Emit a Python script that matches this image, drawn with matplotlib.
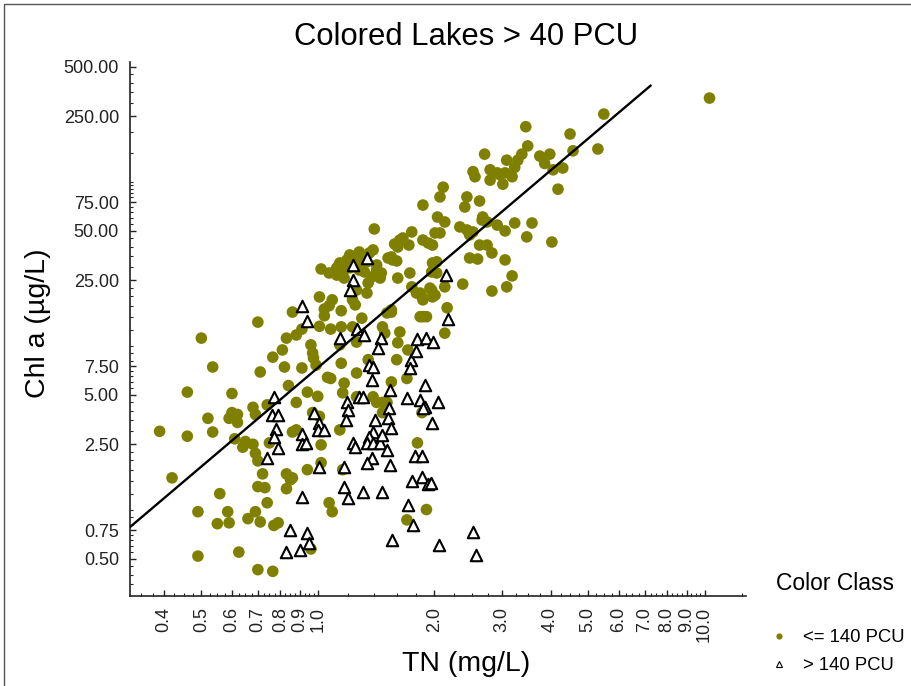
import numpy as np
import matplotlib
matplotlib.use("Agg")
import matplotlib.pyplot as plt
from matplotlib.lines import Line2D
from matplotlib.patches import Rectangle
from matplotlib.ticker import FixedLocator, FormatStrFormatter, NullFormatter

plt.rcParams["font.family"] = ["Liberation Sans", "DejaVu Sans"]

OLIVE = "#808000"

# lakes with colour <= 140 PCU (TN mg/L, Chl a ug/L)
tn_low = [
    0.39, 0.42, 0.46, 0.46, 0.50, 0.49, 0.49, 0.52, 0.535, 0.535,
    0.558, 0.55, 0.585, 0.59, 0.60, 0.60, 0.59, 0.62, 0.61, 0.62,
    0.625, 0.66, 0.65, 0.64, 0.68, 0.69, 0.68, 0.69, 0.70, 0.69,
    0.70, 0.70, 0.71, 0.72, 0.71, 0.70, 0.73, 0.74, 0.74, 0.765,
    0.765, 0.75, 0.77, 0.79, 0.81, 0.82, 0.83, 0.83, 0.83, 0.85,
    0.86, 0.84, 0.86, 0.88, 0.88, 0.91, 0.91, 0.86, 0.88, 0.94,
    0.96, 0.97, 0.975, 0.99, 0.94, 0.97, 1.01, 1.01, 1.00, 1.01,
    1.02, 1.02, 1.06, 1.08, 1.07, 1.09, 0.96, 1.07, 1.04, 1.04,
    1.08, 1.09, 1.12, 1.14, 1.15, 1.15, 1.14, 1.15, 1.14, 1.16,
    1.17, 1.16, 1.21, 1.23, 1.25, 1.26, 1.30, 1.23, 1.26, 1.26,
    1.26, 1.31, 1.34, 1.35, 1.35, 1.39, 1.42, 1.47, 1.47, 1.51,
    1.45, 1.42, 1.47, 1.49, 1.55, 1.55, 1.56, 1.60, 1.61, 1.63,
    1.61, 1.55, 1.71, 1.73, 1.70, 1.75, 1.80, 1.86, 1.86, 1.81,
    1.91, 1.70, 1.87, 1.91, 1.97, 2.01, 1.98, 2.03, 2.13, 2.13,
    2.16, 10.3, 5.49, 3.45, 4.49, 3.49, 5.30, 4.57, 2.70, 3.75,
    3.98, 3.37, 3.29, 3.08, 3.86, 3.23, 4.30, 4.06, 2.79, 2.52,
    2.55, 2.91, 2.96, 3.05, 3.18, 2.79, 3.01, 4.18, 2.11, 2.07,
    1.87, 2.43, 2.40, 2.62, 2.04, 2.13, 2.67, 2.66, 3.23, 3.58,
    2.91, 3.05, 2.33, 2.43, 2.52, 2.47, 3.47, 4.03, 1.75, 2.01,
    2.07, 1.87, 1.93, 1.98, 1.63, 1.58, 1.72, 2.62, 2.74, 2.82,
    2.47, 2.59, 3.05, 2.03, 1.97, 1.52, 1.46, 3.18, 2.37, 1.95,
    1.84, 1.98, 1.87, 2.82, 3.08, 1.84, 1.55, 1.51, 1.40, 1.66,
    1.61, 1.60, 1.39, 1.36, 1.28, 1.21, 1.19, 1.26, 1.34, 1.14,
    1.12, 1.42, 1.43, 1.28, 1.32, 1.21, 1.02, 1.07, 1.16, 1.38,
    1.17, 2.74,
]
chl_low = [
    3.0, 1.56, 5.2, 2.8, 11.1, 0.97, 0.52, 3.6, 7.4, 2.97,
    1.25, 0.82, 0.97, 0.83, 5.1, 3.9, 3.6, 3.8, 2.7, 3.4,
    0.55, 0.88, 2.6, 2.4, 4.2, 3.8, 2.5, 2.2, 1.98, 0.97,
    0.43, 13.9, 6.9, 1.65, 0.84, 1.38, 1.36, 4.35, 1.10, 0.42,
    8.5, 2.55, 0.80, 0.83, 9.4, 7.4, 11.1, 1.65, 1.34, 1.52,
    1.56, 5.7, 16.0, 4.5, 11.6, 12.6, 7.3, 2.97, 3.06, 1.75,
    10.1, 9.0, 8.4, 7.6, 5.2, 3.9, 19.8, 13.1, 4.9, 3.7,
    2.48, 1.93, 6.4, 6.3, 1.10, 0.97, 0.575, 17.5, 16.7, 15.2,
    12.6, 19.0, 26.9, 30.2, 16.3, 13.0, 10.1, 7.8, 3.06, 1.75,
    5.9, 5.15, 34.7, 19.0, 17.7, 21.8, 14.7, 13.0, 10.5, 6.8,
    4.87, 33.3, 20.9, 24.1, 8.2, 4.87, 4.5, 4.5, 3.9, 4.5,
    25.8, 28.9, 13.0, 11.9, 16.0, 34.7, 33.3, 8.2, 25.8, 12.1,
    10.4, 6.0, 9.4, 27.7, 6.3, 22.8, 20.9, 3.9, 19.8, 2.55,
    1.0, 0.865, 15.0, 15.0, 21.8, 20.3, 31.9, 27.7, 22.8, 11.9,
    17.0, 323, 258, 216, 195, 165, 158, 154, 147, 143,
    147, 147, 135, 135, 129, 122, 121, 118, 118, 115,
    107, 113, 110, 113, 107, 102, 96.4, 89.9, 92.5, 80.6,
    71.9, 80.6, 70.0, 76.1, 60.8, 56.7, 60.8, 58.3, 55.9, 55.9,
    54.3, 50.0, 52.9, 50.7, 49.3, 47.3, 46.0, 42.8, 49.3, 48.6,
    48.6, 44.0, 42.2, 41.0, 44.0, 41.6, 41.0, 41.0, 41.0, 36.7,
    34.2, 33.7, 33.3, 32.4, 28.1, 34.2, 27.7, 26.6, 23.7, 22.4,
    20.9, 19.8, 19.0, 21.5, 22.8, 15.0, 16.5, 15.8, 51.4, 45.3,
    39.9, 32.8, 38.3, 36.7, 37.2, 35.7, 33.3, 33.3, 32.4, 31.9,
    29.8, 31.0, 27.7, 28.9, 28.1, 29.8, 29.3, 27.7, 27.7, 26.2,
    25.8, 56.7,
]

# lakes with colour > 140 PCU
tn_high = [
    0.91, 0.94, 1.23, 1.21, 1.34, 1.14, 1.26, 1.32, 1.46, 1.43,
    1.36, 1.39, 1.38, 1.54, 1.53, 1.52, 1.55, 1.41, 1.39, 1.36,
    1.34, 1.39, 1.45, 1.51, 1.47, 1.38, 1.34, 1.54, 1.74, 1.73,
    1.80, 1.81, 1.91, 1.98, 1.70, 1.84, 1.89, 1.89, 2.04, 1.97,
    1.78, 1.86, 1.75, 1.86, 1.93, 1.71, 1.76, 1.56, 2.06, 0.77,
    0.76, 0.79, 0.78, 0.77, 0.79, 0.74, 0.91, 0.91, 0.93, 0.98,
    1.01, 1.00, 1.04, 1.01, 0.91, 0.85, 0.83, 0.90, 0.94, 0.95,
    1.19, 1.20, 1.18, 1.23, 1.25, 1.17, 1.17, 1.20, 1.31, 1.47,
    1.28, 1.31, 2.14, 2.17, 1.96, 2.52, 2.56, 1.87, 1.23,
]
chl_high = [
    17.5, 14.1, 25.1, 21.8, 34.2, 11.1, 12.6, 11.6, 11.1, 9.65,
    7.6, 7.4, 6.17, 5.37, 4.17, 3.62, 3.15, 3.52, 2.97, 2.77,
    2.55, 2.55, 2.55, 2.31, 2.85, 2.06, 1.93, 1.87, 8.2, 7.3,
    9.27, 10.9, 11.1, 10.5, 4.8, 4.67, 5.75, 4.23, 4.54, 3.37,
    2.12, 2.12, 1.50, 1.59, 1.44, 1.06, 0.80, 0.65, 0.61, 4.87,
    3.77, 3.77, 3.10, 2.77, 2.38, 2.06, 2.89, 2.51, 2.55, 3.88,
    3.37, 3.06, 3.06, 1.82, 1.20, 0.75, 0.55, 0.567, 0.72, 0.626,
    4.54, 4.05, 3.52, 2.55, 2.41, 1.82, 1.38, 1.18, 1.28, 1.28,
    4.87, 4.87, 26.9, 14.5, 1.46, 0.73, 0.53, 4.17, 31.0,
]

# fitted line: log10(chl) = a + b * log10(TN)
fit_intercept = 0.864
fit_slope = 2.0
fit_tn = [0.327, 7.25]

x_ticks = [0.4, 0.5, 0.6, 0.7, 0.8, 0.9, 1.0, 2.0, 3.0, 4.0, 5.0, 6.0, 7.0, 8.0, 9.0, 10.0]
y_ticks = [0.5, 0.75, 2.5, 5.0, 7.5, 25.0, 50.0, 75.0, 250.0, 500.0]

x_minor = np.concatenate([np.arange(0.35, 1.0, 0.025), np.arange(1.2, 2.0, 0.2),
                          np.arange(2.25, 10.0, 0.25), [12.5]])
y_minor = np.concatenate([np.arange(0.35, 0.75, 0.05), [0.8, 0.9, 1.0, 1.25, 1.5, 1.75, 2.0, 2.25],
                          np.arange(3.0, 7.5, 0.5), [8, 9, 10, 12.5, 15, 17.5, 20, 22.5],
                          np.arange(30, 75, 5), [80, 85, 90, 95, 100, 150, 200, 300, 350, 400, 450]])

fig = plt.figure(figsize=(9.12, 6.86), dpi=100)
W, H = 912, 686
ax = fig.add_axes([130 / W, 1 - 596 / H, (746 - 130) / W, (596 - 62) / H])
ax.set_xscale("log")
ax.set_yscale("log")
ax.set_xlim(0.327, 12.8)
ax.set_ylim(0.297, 536)

ax.scatter(tn_low, chl_low, s=70, color=OLIVE, edgecolors="none", zorder=2)
ax.scatter(tn_high, chl_high, s=68, marker="^", facecolors="white",
           edgecolors="black", linewidths=1.5, zorder=3)

line_x = np.array(fit_tn)
ax.plot(line_x, 10 ** (fit_intercept + fit_slope * np.log10(line_x)),
        color="black", lw=1.7, zorder=4)

for side in ["top", "right"]:
    ax.spines[side].set_visible(False)
for side in ["left", "bottom"]:
    ax.spines[side].set_color("#222222")
    ax.spines[side].set_linewidth(1.2)

ax.xaxis.set_major_locator(FixedLocator(x_ticks))
ax.xaxis.set_major_formatter(FormatStrFormatter("%.1f"))
ax.xaxis.set_minor_locator(FixedLocator(x_minor))
ax.xaxis.set_minor_formatter(NullFormatter())
ax.yaxis.set_major_locator(FixedLocator(y_ticks))
ax.yaxis.set_major_formatter(FormatStrFormatter("%.2f"))
ax.yaxis.set_minor_locator(FixedLocator(y_minor))
ax.yaxis.set_minor_formatter(NullFormatter())

ax.tick_params(which="both", direction="in", colors="#222222", labelcolor="#222222")
ax.tick_params(which="major", length=4, width=1, labelsize=13, pad=8)
ax.tick_params(which="minor", length=2.5, width=0.8)
ax.tick_params(axis="x", which="major", labelrotation=90)

fig.text(466 / W, 1 - 37 / H, "Colored Lakes > 40 PCU", ha="center", va="center", fontsize=22.3)
fig.text(38 / W, 1 - 323 / H, "Chl a (µg/L)", rotation=90, ha="center", va="center", fontsize=20.5)
fig.text(466 / W, 1 - 664 / H, "TN (mg/L)", ha="center", va="center", fontsize=20.5)

fig.text(835 / W, 1 - 583 / H, "Color Class", ha="center", va="center", fontsize=16.5)
handles = [
    Line2D([], [], ls="none", marker="o", ms=4.5, color=OLIVE, mec="none"),
    Line2D([], [], ls="none", marker="^", ms=5, mfc="white", mec="black", mew=0.8),
]
fig.legend(handles, ["<= 140 PCU", "> 140 PCU"], loc="upper left",
           bbox_to_anchor=(771 / W, 1 - 629 / H), frameon=False, fontsize=13.3,
           handlelength=0.9, handletextpad=0.85, labelspacing=0.6,
           borderpad=0, borderaxespad=0)

fig.add_artist(Rectangle((4 / W, -0.01), 1.0, 1.01 - 4 / H,
                         transform=fig.transFigure, fill=False, edgecolor="#555555", lw=1))

fig.savefig("out.png", dpi=100)
